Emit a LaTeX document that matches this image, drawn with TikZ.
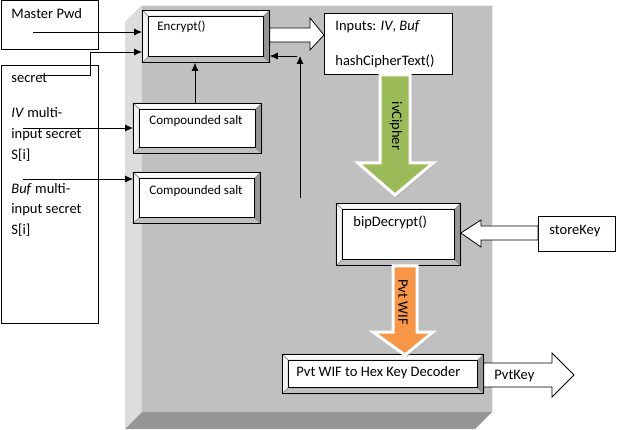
\documentclass[tikz,border=0pt]{standalone}
\usepackage{fontspec}
\setmainfont{Carlito}
\usetikzlibrary{arrows.meta,calc}
\definecolor{frontgray}{HTML}{C0C0C0}
\definecolor{sidegray}{HTML}{DDDDDD}
\definecolor{basegray}{HTML}{969696}
\definecolor{ivgreen}{HTML}{9BBB59}
\definecolor{wiforange}{HTML}{F79646}
\tikzset{
  bevel/.style={draw, fill=white, anchor=north west, inner sep=0pt},
  plainbox/.style={draw, fill=white, anchor=north west, inner sep=0pt},
  txt/.style={anchor=base west, inner sep=0pt, font=\fontsize{14.5}{17}\selectfont},
  smalltxt/.style={txt, font=\fontsize{13}{15}\selectfont},
  conn/.style={-{Latex[length=8pt,width=7pt]}},
  blockarrow/.style={draw, fill=white, line join=miter},
}

\begin{document}
\begin{tikzpicture}[x=1pt, y=-1pt, line width=0.8pt]
                    \useasboundingbox (0,0) rectangle (618,430);
                    % the grey slab
                    \fill[sidegray] (125,22) -- (142,5) -- (142,412) -- (125,429) -- cycle;
                    \fill[basegray] (125,429) -- (142,412) -- (492,412) -- (475,429) -- cycle;
                    \fill[frontgray] (142,5) rectangle (492,412);
                    \draw[white!85!gray] (142,5) -- (492,5) -- (492,412);
                    % boxes
                    \node[plainbox, minimum width=97.5pt, minimum height=48.5pt] (pwd) at (0.5,0.5) {};
                    \node[plainbox, minimum width=97.5pt, minimum height=258pt] (sec) at (0.5,65) {};
                    \node[bevel, minimum width=127pt, minimum height=52pt] (enc) at (142,10) {};
                    \node[bevel, minimum width=128pt, minimum height=50pt] (salt1) at (133,103) {};
                    \node[bevel, minimum width=127pt, minimum height=51pt] (salt2) at (133,172) {};
                    \node[plainbox, minimum width=128pt, minimum height=61pt] (inp) at (324,13) {};
                    \node[bevel, minimum width=124pt, minimum height=62pt] (bip) at (336,203) {};
                    \node[plainbox, minimum width=77pt, minimum height=35pt] (store) at (538,216) {};
                    \node[bevel, minimum width=201pt, minimum height=39pt] (dec) at (282,354) {};
                    \foreach \b in {enc,salt1,salt2,bip,dec} {
                        \filldraw[fill=white!96!gray, draw=gray, line width=0.4pt] (\b.north west) -- (\b.north east) -- ($(\b.north east)+(-6,6)$) -- ($(\b.north west)+(6,6)$) -- cycle;
                        \filldraw[fill=white!90!gray, draw=gray, line width=0.4pt] (\b.north west) -- ($(\b.north west)+(6,6)$) -- ($(\b.south west)+(6,-6)$) -- (\b.south west) -- cycle;
                        \filldraw[fill=basegray, draw=gray, line width=0.4pt] (\b.north east) -- (\b.south east) -- ($(\b.south east)+(-6,-6)$) -- ($(\b.north east)+(-6,6)$) -- cycle;
                        \filldraw[fill=frontgray, draw=gray, line width=0.4pt] (\b.south west) -- ($(\b.south west)+(6,-6)$) -- ($(\b.south east)+(-6,-6)$) -- (\b.south east) -- cycle;
                        \draw ($(\b.north west)+(6,6)$) rectangle ($(\b.south east)+(-6,-6)$);
                        \draw (\b.north west) rectangle (\b.south east);
                    }
                    % texts
                    \node[txt] (pwdT) at (11,19) {Master Pwd};
                    \foreach \yy/\txtline [count=\i] in {83/secret, 118/{\textit{IV} multi-}, 139/input secret, 160/{S[i]}, 194/{\textit{Buf} multi-}, 214/input secret, 235/{S[i]}}
                        \node[txt] (secT\i) at (11,\yy) {\txtline};
                    \node[smalltxt] (encT) at (157,31) {Encrypt()};
                    \node[smalltxt] (salt1T) at (149,125) {Compounded salt};
                    \node[smalltxt] (salt2T) at (149,195) {Compounded salt};
                    \node[txt] (inpT) at (335,31) {Inputs: \textit{IV}, \textit{Buf}};
                    \node[txt] (hashT) at (335,66) {hashCipherText()};
                    \node[txt] (bipT) at (353,227) {bipDecrypt()};
                    \node[txt] (storeT) at (549,235) {storeKey};
                    \node[txt] (decT) at (296,376) {Pvt WIF to Hex Key Decoder};
                    % thin arrows
                    \coordinate (pwdA) at (33,32);
                    \coordinate (secA) at (40,75);
                    \coordinate (ivA) at (23,128);
                    \coordinate (bufA) at (23,179);
                    \coordinate (loopA) at (300,198);
                    \coordinate (loopB) at (300,56);
                    \coordinate (loopC) at (297,56);
                    \draw[conn] (pwdA) -- (pwdA -| enc.west);
                    \draw[conn] (secA) -- (90,75) |- (enc.west |- 0,52);
                    \draw[conn] (ivA) -- (ivA -| salt1.west);
                    \draw[conn] (bufA) -- (bufA -| salt2.west);
                    \draw[conn] (salt1.north -| 195,0) -- (enc.south -| 195,0);
                    \draw[conn] (loopA) -- (loopB);
                    \draw[conn] (loopC) -- (loopC -| enc.east);
                    % block arrows
                    \draw[blockarrow] (enc.east |- 0,28) -- (310,28) -- (310,18) -- (inp.west |- 0,35) -- (310,50) -- (310,42) -- (enc.east |- 0,42) -- cycle;
                    \draw[blockarrow] (store.west |- 0,226) -- (481,226) -- (481,220) -- (bip.east |- 0,233) -- (481,247) -- (481,240) -- (store.west |- 0,240) -- cycle;
                    \draw[blockarrow] (dec.east |- 0,363) -- (552,363) -- (552,353) -- (574,375) -- (552,397) -- (552,387) -- (dec.east |- 0,387) -- cycle;
                    \node[txt] (keyT) at (494,379) {PvtKey};
                    \fill[gray!60, opacity=0.6] (382,76) -- (412,76) -- (412,165) -- (435,165) -- (397,197) -- (360,165) -- (382,165) -- cycle;
                    \draw[white, line width=3pt, fill=ivgreen, line join=miter] (inp.south -| 380,0) -- (inp.south -| 410,0) -- (410,163) -- (433,163) -- (395,195) -- (358,163) -- (380,163) -- cycle;
                    \node[rotate=-90, font=\fontsize{14.5}{17}\selectfont] (ivT) at (396,126) {ivCipher};
                    \fill[gray!60, opacity=0.6] (395,267) -- (419,267) -- (419,334) -- (435,334) -- (407,357) -- (375,334) -- (395,334) -- cycle;
                    \draw[white, line width=3pt, fill=wiforange, line join=miter] (bip.south -| 393,0) -- (bip.south -| 417,0) -- (417,332) -- (433,332) -- (405,355) -- (373,332) -- (393,332) -- cycle;
                    \node[rotate=-90, font=\fontsize{14.5}{17}\selectfont] (wifT) at (403,302) {Pvt WIF};
                \end{tikzpicture}
\end{document}
